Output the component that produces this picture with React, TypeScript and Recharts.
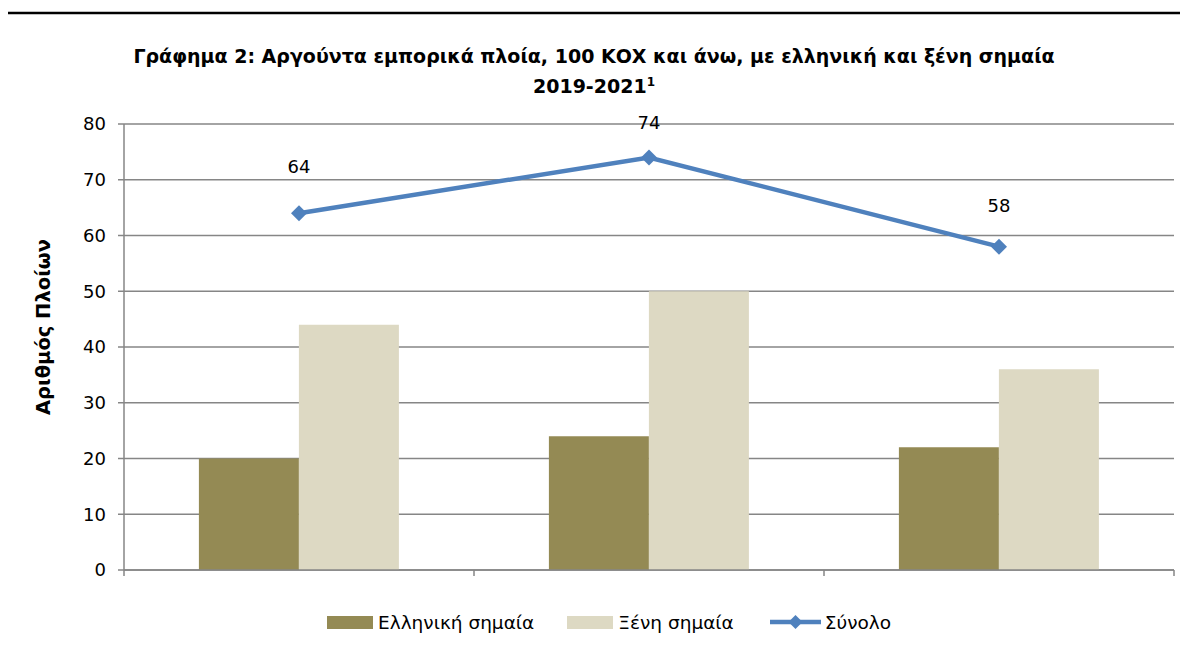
import React from 'react';
import { ComposedChart, Bar, Line, XAxis, YAxis, CartesianGrid, LabelList } from 'recharts';

const years = ['2019', '2020', '2021'];
const greekFlag = [20, 24, 22];
const foreignFlag = [44, 50, 36];
const totalShips = [64, 74, 58];
const yTicks = [0, 10, 20, 30, 40, 50, 60, 70, 80];
const seriesNames = ['Ελληνική σημαία', 'Ξένη σημαία', 'Σύνολο'];
const titleLine1 = 'Γράφημα 2: Αργούντα εμπορικά πλοία, 100 ΚΟΧ και άνω, με ελληνική και ξένη σημαία';
const titleLine2 = '2019-2021';
const titleSup = '1';
const yTitle = 'Αριθμός Πλοίων';
const labelOffsets = [40, 28, 35];

const data = years.map((y, i) => ({
  year: y,
  greek: greekFlag[i],
  foreign: foreignFlag[i],
  total: totalShips[i],
}));

const OLIVE = '#948A54';
const BEIGE = '#DDD9C3';
const BLUE = '#4F81BD';
const GRID = '#868686';
const FONT = '"DejaVu Sans", sans-serif';

const Diamond = (props: any) => {
  const { cx, cy } = props;
  if (cx == null || cy == null) return null;
  const r = 8;
  return <path d={`M${cx},${cy - r} L${cx + r},${cy} L${cx},${cy + r} L${cx - r},${cy} Z`} fill={BLUE} />;
};

const PointLabel = (props: any) => {
  const { x, y, value, index } = props;
  if (x == null || y == null) return null;
  const off = labelOffsets[index] ?? 34;
  return (
    <text x={x} y={y - off} textAnchor="middle" fill="#000" fontSize={18} fontFamily={FONT}>
      {value}
    </text>
  );
};

const BoundaryTick = (props: any) => {
  const { x, y, payload, index, visibleTicksCount } = props;
  const half = payload && payload.offset ? payload.offset : 0;
  const left = x - half;
  const right = x + half;
  const last = index === (visibleTicksCount ?? years.length) - 1;
  return (
    <g>
      <line x1={left} y1={y} x2={left} y2={y + 6} stroke={GRID} strokeWidth={1.5} />
      {last && <line x1={right} y1={y} x2={right} y2={y + 6} stroke={GRID} strokeWidth={1.5} />}
    </g>
  );
};

export default function App() {
  return (
    <div style={{ position: 'relative', width: 1172, height: 634, fontFamily: FONT, color: '#000' }}>
      <div
        style={{
          position: 'absolute',
          left: 0,
          top: 33,
          width: 1172,
          textAlign: 'center',
          fontWeight: 'bold',
          fontSize: 19,
          lineHeight: '30px',
        }}
      >
        <div>{titleLine1}</div>
        <div>
          {titleLine2}
          <sup style={{ fontSize: 12, verticalAlign: 'top', lineHeight: '22px' }}>{titleSup}</sup>
        </div>
      </div>
      <div
        style={{
          position: 'absolute',
          left: 35,
          top: 319,
          transform: 'translate(-50%, -50%) rotate(-90deg)',
          whiteSpace: 'nowrap',
          fontWeight: 'bold',
          fontSize: 19.5,
        }}
      >
        {yTitle}
      </div>
      <ComposedChart
        width={1172}
        height={634}
        data={data}
        margin={{ top: 116, right: 6, left: 0, bottom: 42 }}
        barCategoryGap="21.4%"
        barGap={0}
      >
        <CartesianGrid vertical={false} stroke={GRID} strokeWidth={1.5} />
        <XAxis
          dataKey="year"
          height={30}
          interval={0}
          tickLine={false}
          tickSize={0}
          tickMargin={0}
          stroke={GRID}
          strokeWidth={1.5}
          tick={<BoundaryTick />}
        />
        <YAxis
          width={116}
          domain={[0, 80]}
          ticks={yTicks}
          interval={0}
          tickSize={6}
          tickMargin={12}
          stroke={GRID}
          strokeWidth={1.5}
          tick={{ fill: '#000', fontSize: 18, fontFamily: FONT }}
        />
        <Bar dataKey="greek" name={seriesNames[0]} fill={OLIVE} isAnimationActive={false} />
        <Bar dataKey="foreign" name={seriesNames[1]} fill={BEIGE} isAnimationActive={false} />
        <Line
          dataKey="total"
          name={seriesNames[2]}
          stroke={BLUE}
          strokeWidth={4.5}
          dot={<Diamond />}
          activeDot={false}
          isAnimationActive={false}
        >
          <LabelList dataKey="total" content={<PointLabel />} />
        </Line>
      </ComposedChart>
      <div
        style={{
          position: 'absolute',
          left: 319,
          top: 603,
          height: 22,
          display: 'flex',
          alignItems: 'center',
          fontSize: 18.5,
          whiteSpace: 'nowrap',
        }}
      >
        <span style={{ width: 46, height: 13, background: OLIVE, marginRight: 5, display: 'inline-block' }} />
        <span style={{ marginRight: 33 }}>{seriesNames[0]}</span>
        <span style={{ width: 46, height: 13, background: BEIGE, marginRight: 5, display: 'inline-block' }} />
        <span style={{ marginRight: 36 }}>{seriesNames[1]}</span>
        <svg width={51} height={16} style={{ marginRight: 4 }}>
          <line x1={0} y1={8} x2={51} y2={8} stroke={BLUE} strokeWidth={4.5} />
          <path d="M25.5,1 L32.5,8 L25.5,15 L18.5,8 Z" fill={BLUE} />
        </svg>
        <span>{seriesNames[2]}</span>
      </div>
      <svg
        width={1172}
        height={634}
        style={{ position: 'absolute', left: 0, top: 0, pointerEvents: 'none', overflow: 'visible' }}
      >
        <path d="M-1.5,642 L-1.5,5 L1180,5" fill="none" stroke="#000" strokeWidth={2.5} />
      </svg>
    </div>
  );
}
